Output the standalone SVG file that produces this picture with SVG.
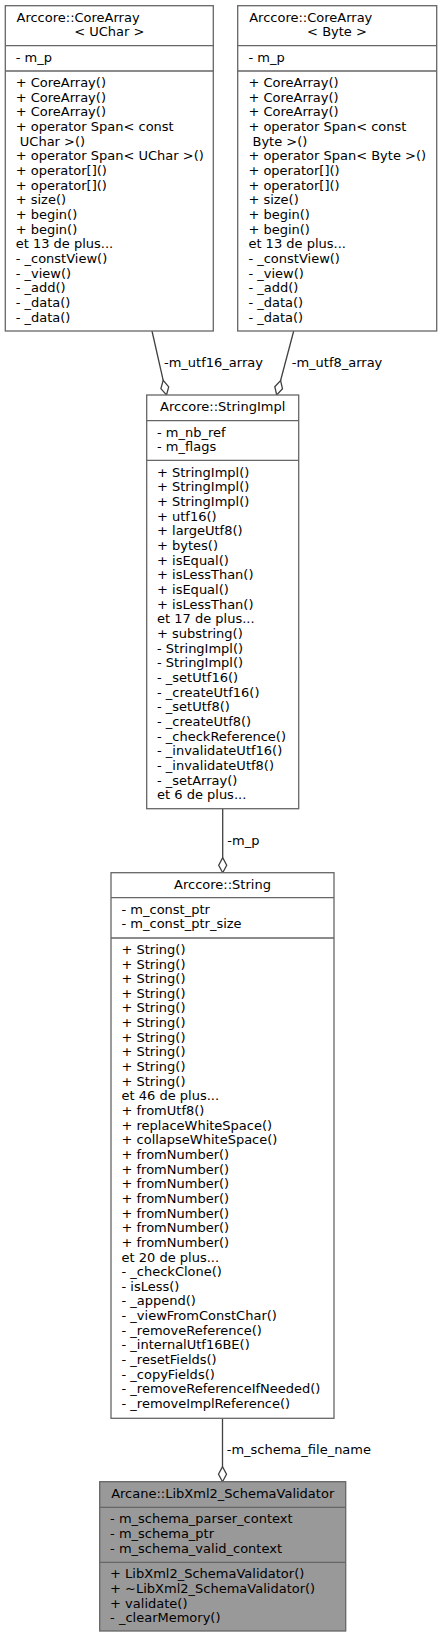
<svg xmlns="http://www.w3.org/2000/svg" width="442" height="1637" viewBox="0 0 442 1637">
<style>
text{font-family:"DejaVu Sans","Liberation Sans",sans-serif;font-size:13px;fill:#000}
.c{text-anchor:middle}
.box{fill:#fff;stroke:#666;stroke-width:1.3}
.hl{fill:#999;stroke:#666;stroke-width:1.3}
.sep{stroke:#666;stroke-width:1.3;fill:none}
.edge{stroke:#404040;stroke-width:1.3;fill:none}
.dia{stroke:#404040;stroke-width:1.3;fill:#fff}
</style>
<rect width="442" height="1637" fill="#fff"/>
<g id="connectors">
<path class="edge" d="M152,331 L163.2,380.4"/>
<polygon class="dia" points="166.5,395 168.7,386.8 163.2,380.4 160.9,388.6"/>
<text x="164" y="366.8">-m_utf16_array</text>
<path class="edge" d="M293.7,331 L280.6,380.5"/>
<polygon class="dia" points="276.7,395 274.8,386.7 280.6,380.5 282.5,388.8"/>
<text x="291.7" y="366.8">-m_utf8_array</text>
<path class="edge" d="M222.7,808.7 L222.7,857.7"/>
<polygon class="dia" points="222.7,872.7 226.7,865.2 222.7,857.7 218.7,865.2"/>
<text x="227.3" y="844.5">-m_p</text>
<path class="edge" d="M222.5,1418.3 L222.5,1466.7"/>
<polygon class="dia" points="222.5,1481.7 226.5,1474.2 222.5,1466.7 218.5,1474.2"/>
<text x="226.7" y="1453.5">-m_schema_file_name</text>
</g>
<g id="node_uchar">
<rect class="box" x="5.3" y="5.7" width="208" height="325.3"/>
<path class="sep" d="M5.3,45.7H213.3M5.3,71H213.3"/>
<text x="16.5" y="21.7">Arccore::CoreArray</text>
<text class="c" x="109.3" y="36.4">&lt; UChar &gt;</text>
<text x="15.7" y="61.8">- m_p</text>
<text x="15.7" y="87">+ CoreArray()</text>
<text x="15.7" y="101.7">+ CoreArray()</text>
<text x="15.7" y="116.3">+ CoreArray()</text>
<text x="15.7" y="131">+ operator Span&lt; const</text>
<text x="19.8" y="145.7">UChar &gt;()</text>
<text x="15.7" y="160.4">+ operator Span&lt; UChar &gt;()</text>
<text x="15.7" y="175">+ operator[]()</text>
<text x="15.7" y="189.7">+ operator[]()</text>
<text x="15.7" y="204.4">+ size()</text>
<text x="15.7" y="219">+ begin()</text>
<text x="15.7" y="233.7">+ begin()</text>
<text x="15.7" y="248.4">et 13 de plus...</text>
<text x="15.7" y="263">- _constView()</text>
<text x="15.7" y="277.7">- _view()</text>
<text x="15.7" y="292.4">- _add()</text>
<text x="15.7" y="307">- _data()</text>
<text x="15.7" y="321.7">- _data()</text>
</g>
<g id="node_byte">
<rect class="box" x="237.7" y="5.7" width="199" height="325.3"/>
<path class="sep" d="M237.7,45.7H436.7M237.7,71H436.7"/>
<text x="249.2" y="21.7">Arccore::CoreArray</text>
<text class="c" x="337" y="36.4">&lt; Byte &gt;</text>
<text x="248.4" y="61.8">- m_p</text>
<text x="248.4" y="87">+ CoreArray()</text>
<text x="248.4" y="101.7">+ CoreArray()</text>
<text x="248.4" y="116.3">+ CoreArray()</text>
<text x="248.4" y="131">+ operator Span&lt; const</text>
<text x="252.5" y="145.7">Byte &gt;()</text>
<text x="248.4" y="160.4">+ operator Span&lt; Byte &gt;()</text>
<text x="248.4" y="175">+ operator[]()</text>
<text x="248.4" y="189.7">+ operator[]()</text>
<text x="248.4" y="204.4">+ size()</text>
<text x="248.4" y="219">+ begin()</text>
<text x="248.4" y="233.7">+ begin()</text>
<text x="248.4" y="248.4">et 13 de plus...</text>
<text x="248.4" y="263">- _constView()</text>
<text x="248.4" y="277.7">- _view()</text>
<text x="248.4" y="292.4">- _add()</text>
<text x="248.4" y="307">- _data()</text>
<text x="248.4" y="321.7">- _data()</text>
</g>
<g id="node_stringimpl">
<rect class="box" x="146.7" y="395" width="152" height="413.7"/>
<path class="sep" d="M146.7,420.7H298.7M146.7,460.3H298.7"/>
<text class="c" x="222.7" y="411">Arccore::StringImpl</text>
<text x="157" y="436.6">- m_nb_ref</text>
<text x="157" y="451.3">- m_flags</text>
<text x="157" y="476.6">+ StringImpl()</text>
<text x="157" y="491.3">+ StringImpl()</text>
<text x="157" y="505.9">+ StringImpl()</text>
<text x="157" y="520.6">+ utf16()</text>
<text x="157" y="535.3">+ largeUtf8()</text>
<text x="157" y="549.9">+ bytes()</text>
<text x="157" y="564.6">+ isEqual()</text>
<text x="157" y="579.3">+ isLessThan()</text>
<text x="157" y="593.9">+ isEqual()</text>
<text x="157" y="608.6">+ isLessThan()</text>
<text x="157" y="623.3">et 17 de plus...</text>
<text x="157" y="637.9">+ substring()</text>
<text x="157" y="652.6">- StringImpl()</text>
<text x="157" y="667.3">- StringImpl()</text>
<text x="157" y="681.9">- _setUtf16()</text>
<text x="157" y="696.6">- _createUtf16()</text>
<text x="157" y="711.3">- _setUtf8()</text>
<text x="157" y="725.9">- _createUtf8()</text>
<text x="157" y="740.6">- _checkReference()</text>
<text x="157" y="755.3">- _invalidateUtf16()</text>
<text x="157" y="769.9">- _invalidateUtf8()</text>
<text x="157" y="784.6">- _setArray()</text>
<text x="157" y="799.3">et 6 de plus...</text>
</g>
<g id="node_string">
<rect class="box" x="111" y="872.7" width="223" height="545.6"/>
<path class="sep" d="M111,897.7H334M111,938H334"/>
<text class="c" x="222.5" y="888.7">Arccore::String</text>
<text x="121.5" y="913.7">- m_const_ptr</text>
<text x="121.5" y="928.4">- m_const_ptr_size</text>
<text x="121.5" y="953.8">+ String()</text>
<text x="121.5" y="968.5">+ String()</text>
<text x="121.5" y="983.1">+ String()</text>
<text x="121.5" y="997.8">+ String()</text>
<text x="121.5" y="1012.4">+ String()</text>
<text x="121.5" y="1027.1">+ String()</text>
<text x="121.5" y="1041.7">+ String()</text>
<text x="121.5" y="1056.4">+ String()</text>
<text x="121.5" y="1071">+ String()</text>
<text x="121.5" y="1085.7">+ String()</text>
<text x="121.5" y="1100.3">et 46 de plus...</text>
<text x="121.5" y="1115">+ fromUtf8()</text>
<text x="121.5" y="1129.6">+ replaceWhiteSpace()</text>
<text x="121.5" y="1144.3">+ collapseWhiteSpace()</text>
<text x="121.5" y="1158.9">+ fromNumber()</text>
<text x="121.5" y="1173.6">+ fromNumber()</text>
<text x="121.5" y="1188.2">+ fromNumber()</text>
<text x="121.5" y="1202.9">+ fromNumber()</text>
<text x="121.5" y="1217.5">+ fromNumber()</text>
<text x="121.5" y="1232.2">+ fromNumber()</text>
<text x="121.5" y="1246.8">+ fromNumber()</text>
<text x="121.5" y="1261.5">et 20 de plus...</text>
<text x="121.5" y="1276.1">- _checkClone()</text>
<text x="121.5" y="1290.8">- isLess()</text>
<text x="121.5" y="1305.4">- _append()</text>
<text x="121.5" y="1320.1">- _viewFromConstChar()</text>
<text x="121.5" y="1334.7">- _removeReference()</text>
<text x="121.5" y="1349.4">- _internalUtf16BE()</text>
<text x="121.5" y="1364">- _resetFields()</text>
<text x="121.5" y="1378.7">- _copyFields()</text>
<text x="121.5" y="1393.3">- _removeReferenceIfNeeded()</text>
<text x="121.5" y="1408">- _removeImplReference()</text>
</g>
<g id="node_validator">
<rect class="hl" x="99.7" y="1481.7" width="246" height="149.3"/>
<path class="sep" d="M99.7,1507.3H345.7M99.7,1562.3H345.7"/>
<text class="c" x="222.7" y="1497.7">Arcane::LibXml2_SchemaValidator</text>
<text x="110.1" y="1523.3">- m_schema_parser_context</text>
<text x="110.1" y="1538">- m_schema_ptr</text>
<text x="110.1" y="1552.6">- m_schema_valid_context</text>
<text x="110.1" y="1578.3">+ LibXml2_SchemaValidator()</text>
<text x="110.1" y="1593">+ ~LibXml2_SchemaValidator()</text>
<text x="110.1" y="1607.6">+ validate()</text>
<text x="110.1" y="1622.3">- _clearMemory()</text>
</g>
</svg>
